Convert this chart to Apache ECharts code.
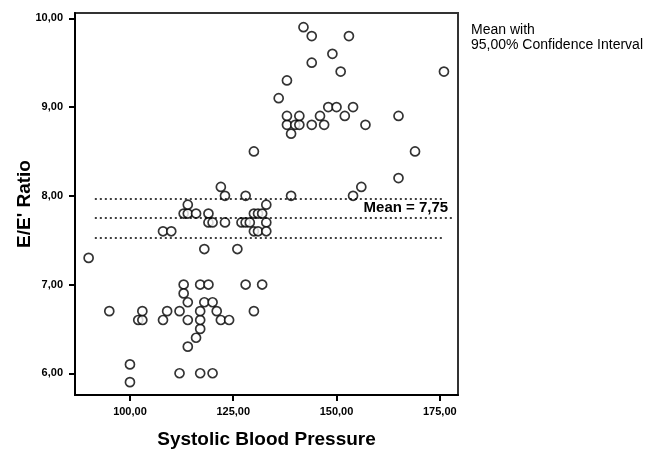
<!DOCTYPE html>
<html>
<head>
<meta charset="utf-8">
<script src="https://cdn.jsdelivr.net/npm/echarts@6/dist/echarts.min.js"></script>
<style>
  html, body { margin: 0; padding: 0; background: #fff; }
  #chart { width: 650px; height: 457px; }
</style>
</head>
<body>
<div id="chart"></div>
<script>
// systolic blood pressure (x) and E/E' ratio (y)
const sbp = [
  90, 95, 100, 100, 102, 103, 103, 108, 109, 108, 110,
  112, 112, 113, 113, 114, 114, 114, 116, 117, 117, 117, 117, 119, 118, 120, 121, 122, 124, 117, 120,
  128, 132, 130,
  113, 114, 116, 114, 119, 119, 120, 123, 118, 126, 122, 123, 128,
  127, 128, 129, 130, 131, 132, 133, 133, 130, 131, 133,
  130, 136, 138, 139, 138, 140, 141, 138, 141, 139, 144, 146, 147, 148, 150, 154, 152, 157,
  144, 142, 144, 153, 149, 151, 176, 165, 165, 169, 156, 154
]
const ratio = [
  7.3, 6.7, 6.1, 5.9, 6.6, 6.6, 6.7, 6.6, 6.7, 7.6, 7.6,
  6.7, 6.0, 7.0, 6.9, 6.8, 6.6, 6.3, 6.4, 6.5, 6.6, 6.7, 7.0, 7.0, 6.8, 6.8, 6.7, 6.6, 6.6, 6.0, 6.0,
  7.0, 7.0, 6.7,
  7.8, 7.8, 7.8, 7.9, 7.8, 7.7, 7.7, 7.7, 7.4, 7.4, 8.1, 8.0, 8.0,
  7.7, 7.7, 7.7, 7.8, 7.8, 7.8, 7.9, 7.7, 7.6, 7.6, 7.6,
  8.5, 9.1, 9.3, 8.7, 8.8, 8.8, 8.8, 8.9, 8.9, 8.0, 8.8, 8.9, 8.8, 9.0, 9.0, 9.0, 8.9, 8.8,
  9.5, 9.9, 9.8, 9.8, 9.6, 9.4, 9.4, 8.9, 8.2, 8.5, 8.1, 8.0
]

// mean and 95% confidence interval
const meanValue = 7.75
const ciLower = 7.53
const ciUpper = 7.97
const lineFrom = 91.5
const lineTo = 175.5
const meanLineTo = 178

const xTicks = [100, 125, 150, 175]
const yTicks = [6, 7, 8, 9, 10]

const fmt = v => v.toFixed(2).replace('.', ',')

const chart = echarts.init(document.getElementById('chart'))

const points = sbp.map((x, i) => [x, ratio[i]])

const dotted = {
  color: '#000',
  type: [2, 3],
  width: 1.5
}

const option = {
  animation: false,
  textStyle: { fontFamily: 'Liberation Sans' },
  grid: {
    left: 75,
    right: 192,
    top: 13,
    bottom: 62,
    outerBoundsMode: 'none',
    containLabel: false,
    show: true,
    borderColor: '#333',
    borderWidth: 2
  },
  xAxis: {
    type: 'value',
    min: 86.7,
    max: 179.4,
    name: 'Systolic Blood Pressure',
    nameLocation: 'middle',
    nameGap: 35,
    nameMoveOverlap: false,
    nameTextStyle: { fontSize: 19, fontWeight: 'bold', color: '#000' },
    axisLine: { show: true, lineStyle: { color: '#000', width: 2 } },
    axisTick: { show: true, customValues: xTicks, length: 6, lineStyle: { color: '#000', width: 2 } },
    axisLabel: {
      customValues: xTicks,
      formatter: fmt,
      color: '#000',
      fontSize: 11,
      fontWeight: 'bold',
      margin: 11
    },
    splitLine: { show: false }
  },
  yAxis: {
    type: 'value',
    min: 5.755,
    max: 10.06,
    name: "E/E' Ratio",
    nameLocation: 'middle',
    nameGap: 41,
    nameMoveOverlap: false,
    nameTextStyle: { fontSize: 19, fontWeight: 'bold', color: '#000' },
    axisLine: { show: true, lineStyle: { color: '#000', width: 2 } },
    axisTick: { show: true, customValues: yTicks, length: 6, lineStyle: { color: '#000', width: 2 } },
    axisLabel: {
      customValues: yTicks,
      formatter: fmt,
      color: '#000',
      fontSize: 11,
      fontWeight: 'bold',
      margin: 12
    },
    splitLine: { show: false }
  },
  series: [
    {
      type: 'scatter',
      data: points,
      symbol: 'circle',
      symbolSize: 9,
      itemStyle: { color: '#fff', borderColor: '#000', borderWidth: 1.7 },
      markLine: {
        silent: true,
        symbol: 'none',
        lineStyle: dotted,
        label: { show: false },
        data: [
          [{ coord: [lineFrom, ciUpper] }, { coord: [lineTo, ciUpper] }],
          [{ coord: [lineFrom, ciLower] }, { coord: [lineTo, ciLower] }],
          [
            { coord: [lineFrom, meanValue] },
            {
              coord: [meanLineTo, meanValue],
              label: {
                show: true,
                position: 'insideEndTop',
                formatter: 'Mean = 7,75',
                color: '#000',
                fontWeight: 'bold',
                fontSize: 15,
                distance: [4, 3]
              }
            }
          ]
        ]
      }
    }
  ],
  graphic: [
    {
      type: 'text',
      left: 471,
      top: 23,
      style: {
        text: 'Mean with\n95,00% Confidence Interval',
        fill: '#000',
        font: '14px "Liberation Sans"',
        lineHeight: 15
      }
    }
  ]
}

chart.setOption(option)
</script>
</body>
</html>
